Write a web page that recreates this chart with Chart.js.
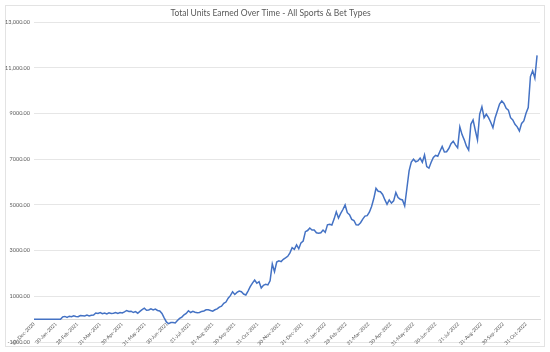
<!DOCTYPE html>
<html>
<head>
<meta charset="utf-8">
<script src="https://cdn.jsdelivr.net/npm/chart.js@4.4.1/dist/chart.umd.min.js"></script>
<style>
  html, body { margin: 0; padding: 0; background: #ffffff; }
  #wrap { width: 550px; height: 352px; position: relative; }
</style>
</head>
<body>
<div id="wrap"><canvas id="c" width="550" height="352"></canvas></div>
<script>
const chartTitle = "Total Units Earned Over Time - All Sports & Bet Types";
const startDate = "31-Dec-2020";
const stepDays = 3;
// Cumulative units, one reading every 3 days from 31-Dec-2020
const units = [
  0,0,0,0,0,0,0,0,0,0,0,0,0,
  100,120,80,130,110,150,120,110,160,150,140,180,140,170,180,
  270,250,290,240,270,230,280,250,260,290,250,290,270,320,380,
  340,350,290,330,260,340,420,480,390,400,450,400,440,380,360,
  250,60,-120,-200,-150,-150,-170,-60,30,90,190,250,370,290,340,
  300,280,290,340,360,410,410,380,350,410,450,530,570,690,750,
  920,1030,1200,1080,1170,1230,1200,1100,1060,1230,1420,1580,1710,1570,1640,
  1360,1480,1530,1500,1680,2420,2080,2500,2550,2520,2620,2680,2750,2900,3130,
  3060,3250,3080,3340,3420,3830,3880,3990,3900,3900,3780,3760,3780,3900,3800,
  4130,4150,4120,4380,4700,4430,4630,4800,5000,4660,4570,4370,4320,4130,4120,
  4220,4380,4510,4530,4680,4930,5280,5730,5600,5580,5460,5230,5030,5220,5080,
  5180,5540,5320,5250,5220,4960,5720,6490,6880,7000,6890,6930,7050,6870,7190,
  6680,6610,6870,7080,7170,7130,7350,7560,7320,7330,7470,7680,7790,7630,7500,
  8420,8080,7850,7570,7400,8530,8720,8270,7850,8980,9300,8820,8970,8820,8620,
  8380,8820,9110,9420,9550,9440,9230,9150,8820,8720,8530,8420,8240,8570,8680,
  9010,9260,10620,10870,10550,11550
];
const xTickLabels = ["31-Dec-2020","30-Jan-2021","28-Feb-2021","31-Mar-2021","30-Apr-2021","31-May-2021",
  "30-Jun-2021","31-Jul-2021","31-Aug-2021","30-Sep-2021","31-Oct-2021","30-Nov-2021","31-Dec-2021",
  "31-Jan-2022","28-Feb-2022","31-Mar-2022","30-Apr-2022","31-May-2022","30-Jun-2022","31-Jul-2022",
  "31-Aug-2022","30-Sep-2022","31-Oct-2022"];
const yTickValues = [-1000, 1000, 3000, 5000, 7000, 9000, 11000, 13000];
const yTickLabels = ["-1000.00","1000.00","3000.00","5000.00","7000.00","9000.00","11,000.00","13,000.00"];

const monthIdx = {Jan:0,Feb:1,Mar:2,Apr:3,May:4,Jun:5,Jul:6,Aug:7,Sep:8,Oct:9,Nov:10,Dec:11};
function parseDate(s){ const p = s.split('-'); return Date.UTC(+p[2], monthIdx[p[1]], +p[0]); }
const t0 = parseDate(startDate);
const xTickDays = xTickLabels.map(s => (parseDate(s) - t0) / 86400000);
const points = units.map((v, i) => ({ x: i * stepDays, y: v }));

const FONT = "Lato, 'Open Sans', sans-serif";
const TXT = "#595959";

const frame = {
  id: 'frame',
  beforeDraw(chart) {
    const ctx = chart.ctx;
    ctx.save();
    ctx.fillStyle = '#ffffff';
    ctx.fillRect(0, 0, chart.width, chart.height);
    ctx.strokeStyle = '#e3e3e3';
    ctx.lineWidth = 1;
    ctx.strokeRect(5.5, 5.5, chart.width - 11, chart.height - 11);
    ctx.restore();
  }
};

new Chart(document.getElementById('c'), {
  type: 'line',
  data: {
    datasets: [{
      data: points,
      borderColor: '#4472C4',
      borderWidth: 1.5,
      pointRadius: 0,
      tension: 0,
      fill: false
    }]
  },
  options: {
    responsive: false,
    animation: false,
    layout: { padding: { left: 1, right: 10, top: 6, bottom: 10 } },
    plugins: {
      legend: { display: false },
      tooltip: { enabled: false },
      title: {
        display: true,
        text: chartTitle,
        color: TXT,
        font: { family: FONT, size: 8.5, weight: 'normal' },
        padding: { top: 2, bottom: 4 }
      }
    },
    scales: {
      x: {
        type: 'linear',
        position: { y: 0 },
        min: 0,
        max: 688,
        afterBuildTicks(scale) { scale.ticks = xTickDays.map(v => ({ value: v })); },
        ticks: {
          autoSkip: false,
          minRotation: 45,
          maxRotation: 45,
          padding: 2,
          color: TXT,
          font: { family: FONT, size: 5 },
          callback: (v, i) => xTickLabels[i]
        },
        grid: { display: false, drawTicks: false },
        border: { display: true, color: '#d9d9d9', width: 1 }
      },
      y: {
        type: 'linear',
        min: -1000,
        max: 13000,
        afterBuildTicks(scale) { scale.ticks = yTickValues.map(v => ({ value: v })); },
        afterFit(scale) { scale.width = 33; },
        ticks: {
          padding: 4,
          color: TXT,
          font: { family: FONT, size: 5.5 },
          callback: (v, i) => yTickLabels[i]
        },
        grid: { color: '#e0e0e0', lineWidth: 0.8, drawTicks: false },
        border: { display: false }
      }
    }
  },
  plugins: [frame]
});
</script>
</body>
</html>
